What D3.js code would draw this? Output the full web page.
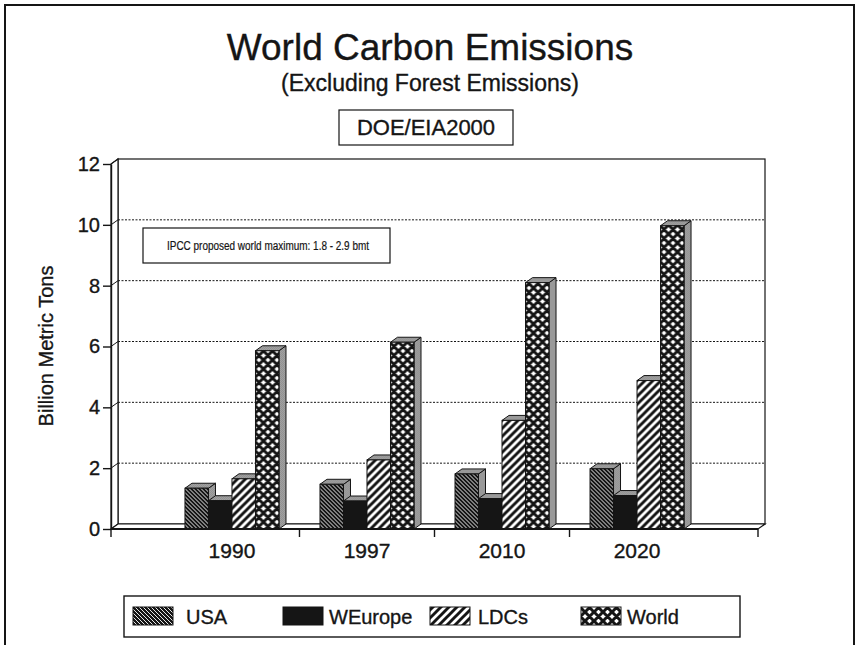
<!DOCTYPE html>
<html>
<head>
<meta charset="utf-8">
<script src="https://cdn.jsdelivr.net/npm/d3@7"></script>
<style>
  body { margin: 0; background: #fff; }
  svg { display: block; font-family: "Liberation Sans", Arial, Helvetica, sans-serif; }
  text { stroke: #151515; stroke-width: 0.35px; }
</style>
</head>
<body>
<svg id="chart" width="859" height="645"></svg>
<script>
// Carbon emissions, billion metric tons
const years = ["1990", "1997", "2010", "2020"];
const seriesNames = ["USA", "WEurope", "LDCs", "World"];
const usa     = [1.34, 1.47, 1.81, 1.98];
const weurope = [0.93, 0.92, 1.00, 1.10];
const ldcs    = [1.65, 2.27, 3.57, 4.88];
const world   = [5.86, 6.14, 8.10, 9.97];
const yTicks  = [0, 2, 4, 6, 8, 10, 12];

const seriesValues = [usa, weurope, ldcs, world];
const patternIds = ["pat-usa", "pat-weurope", "pat-ldcs", "pat-world"];

const INK = "#151515";
const DX = 7, DY = 5;               // 3-D depth offset
const xLeft = 111, xRight = 758;    // front floor edge
const floorY = 529, topY = 164;

const svg = d3.select("#chart");
const defs = svg.append("defs");

// ---- fill patterns ----
function pattern(id, size, bg) {
  const p = defs.append("pattern").attr("id", id)
    .attr("patternUnits", "userSpaceOnUse")
    .attr("width", size).attr("height", size);
  p.append("rect").attr("width", size).attr("height", size).attr("fill", bg);
  return p;
}
pattern("pat-usa", 4, INK)
  .append("path").attr("d", "M-1,-1L5,5M-1,3L1,5M3,-1L5,1")
  .attr("stroke", "#fff").attr("stroke-width", 0.9);
pattern("pat-weurope", 4, INK);
pattern("pat-ldcs", 8, "#fff")
  .append("path").attr("d", "M-2,2L2,-2M0,8L8,0M6,10L10,6")
  .attr("stroke", INK).attr("stroke-width", 2.9);
// heavy cross-hatch
pattern("pat-world", 9, "#fff")
  .append("path").attr("d", "M-2,2L2,-2M0,9L9,0M7,11L11,7M-2,7L2,11M0,0L9,9M7,-2L11,2")
  .attr("stroke", INK).attr("stroke-width", 3.0);
const ps = pattern("pat-stipple", 2, "#fff");
ps.append("rect").attr("width", 1).attr("height", 1).attr("fill", "#333");
ps.append("rect").attr("x", 1).attr("y", 1).attr("width", 1).attr("height", 1).attr("fill", "#333");

// ---- outer frame ----
svg.append("rect").attr("x", 5).attr("y", 5).attr("width", 849).attr("height", 680)
  .attr("fill", "none").attr("stroke", INK).attr("stroke-width", 2);

// ---- titles ----
svg.append("text").attr("x", 430).attr("y", 60).attr("text-anchor", "middle")
  .attr("font-size", 37).attr("fill", INK).text("World Carbon Emissions");
svg.append("text").attr("x", 430).attr("y", 91).attr("text-anchor", "middle")
  .attr("font-size", 23).attr("fill", INK).text("(Excluding Forest Emissions)");
svg.append("rect").attr("x", 339).attr("y", 110).attr("width", 174).attr("height", 35)
  .attr("fill", "#fff").attr("stroke", INK).attr("stroke-width", 1.2);
svg.append("text").attr("x", 426).attr("y", 135).attr("text-anchor", "middle")
  .attr("font-size", 22).attr("fill", INK).text("DOE/EIA2000");

// ---- scales ----
const y = d3.scaleLinear().domain([0, 12]).range([floorY, topY]);
const x = d3.scaleBand().domain(years).range([xLeft, xRight])
  .paddingInner(0).paddingOuter(0.396);
const xs = d3.scaleBand().domain(seriesNames).range([0, x.bandwidth()])
  .paddingInner(0).paddingOuter(0.872);

// ---- walls and floor ----
const plot = svg.append("g");
plot.append("rect").attr("x", xLeft + DX).attr("y", y(12) - DY)
  .attr("width", xRight - xLeft).attr("height", y(0) - y(12))
  .attr("fill", "#fff").attr("stroke", INK).attr("stroke-width", 1.2);
plot.append("path")
  .attr("d", `M${xLeft},${y(12)}L${xLeft + DX},${y(12) - DY}L${xLeft + DX},${y(0) - DY}L${xLeft},${y(0)}Z`)
  .attr("fill", "#fff").attr("stroke", INK).attr("stroke-width", 1.2);
plot.append("path")
  .attr("d", `M${xLeft},${y(0)}L${xLeft + DX},${y(0) - DY}L${xRight + DX},${y(0) - DY}L${xRight},${y(0)}Z`)
  .attr("fill", "#fff").attr("stroke", INK).attr("stroke-width", 1.2);

// dotted gridlines on the back wall
const gridVals = yTicks.filter(v => v > 0 && v < 12);
plot.selectAll("line.grid").data(gridVals).join("line").attr("class", "grid")
  .attr("x1", xLeft + DX).attr("x2", xRight + DX)
  .attr("y1", d => y(d) - DY).attr("y2", d => y(d) - DY)
  .attr("stroke", INK).attr("stroke-width", 1).attr("stroke-dasharray", "2,1.5");
plot.selectAll("line.gdiag").data(yTicks.filter(v => v > 0)).join("line").attr("class", "gdiag")
  .attr("x1", xLeft).attr("x2", xLeft + DX)
  .attr("y1", d => y(d)).attr("y2", d => y(d) - DY)
  .attr("stroke", INK).attr("stroke-width", 1);

// ---- bars ----
const groups = svg.append("g").selectAll("g.year").data(years).join("g")
  .attr("class", "year")
  .attr("transform", d => `translate(${x(d)},0)`);

const bars = groups.selectAll("g.bar")
  .data((yr, i) => seriesNames.map((s, j) => ({ s, j, v: seriesValues[j][i] })))
  .join("g").attr("class", "bar");

const bw = xs.bandwidth();
bars.append("path") // side face
  .attr("d", d => {
    const x0 = xs(d.s) + bw, yv = y(d.v), y0 = y(0);
    return `M${x0},${yv}L${x0 + DX},${yv - DY}L${x0 + DX},${y0 - DY}L${x0},${y0}Z`;
  })
  .attr("fill", "url(#pat-stipple)").attr("stroke", INK).attr("stroke-width", 1);
bars.append("path") // top face
  .attr("d", d => {
    const x0 = xs(d.s), yv = y(d.v);
    return `M${x0},${yv}L${x0 + DX},${yv - DY}L${x0 + bw + DX},${yv - DY}L${x0 + bw},${yv}Z`;
  })
  .attr("fill", "url(#pat-stipple)").attr("stroke", INK).attr("stroke-width", 1);
bars.append("rect") // front face
  .attr("x", d => xs(d.s)).attr("y", d => y(d.v))
  .attr("width", bw).attr("height", d => y(0) - y(d.v))
  .attr("fill", d => `url(#${patternIds[d.j]})`)
  .attr("stroke", INK).attr("stroke-width", 1);

// ---- axes ----
const yAxis = svg.append("g").attr("transform", `translate(${xLeft},0)`)
  .call(d3.axisLeft(y).tickValues(yTicks).tickSize(8).tickSizeOuter(0).tickPadding(3));
yAxis.select(".domain").attr("stroke", INK).attr("stroke-width", 1.4);
yAxis.selectAll(".tick line").attr("stroke", INK).attr("stroke-width", 1.4);
yAxis.selectAll(".tick text").attr("font-size", 20).attr("fill", INK)
  .attr("font-family", "Liberation Sans, Arial, sans-serif");

const xAxis = svg.append("g").attr("transform", `translate(0,${floorY})`)
  .call(d3.axisBottom(x).tickSize(0).tickPadding(14));
xAxis.select(".domain").remove();
xAxis.selectAll(".tick text").attr("font-size", 21).attr("fill", INK)
  .attr("font-family", "Liberation Sans, Arial, sans-serif");

// front floor edge and category separators
svg.append("line").attr("x1", xLeft).attr("x2", xRight)
  .attr("y1", floorY).attr("y2", floorY)
  .attr("stroke", INK).attr("stroke-width", 2);
const sepX = [xLeft].concat(years.slice(1).map(d => x(d)), [xRight]);
svg.selectAll("line.sep").data(sepX).join("line").attr("class", "sep")
  .attr("x1", d => d).attr("x2", d => d)
  .attr("y1", floorY).attr("y2", floorY + 8)
  .attr("stroke", INK).attr("stroke-width", 1.4);

// y axis title
svg.append("text").attr("transform", "translate(53,346) rotate(-90)")
  .attr("text-anchor", "middle").attr("font-size", 20).attr("fill", INK)
  .text("Billion Metric Tons");

// ---- annotation ----
svg.append("rect").attr("x", 143).attr("y", 228).attr("width", 247).attr("height", 35)
  .attr("fill", "#fff").attr("stroke", INK).attr("stroke-width", 1.2);
svg.append("text").attr("x", 167).attr("y", 250)
  .attr("font-size", 12).attr("fill", INK)
  .attr("textLength", 202).attr("lengthAdjust", "spacingAndGlyphs")
  .style("stroke-width", "0.2px")
  .text("IPCC proposed world maximum: 1.8 - 2.9 bmt");

// ---- legend ----
svg.append("rect").attr("x", 124).attr("y", 596).attr("width", 616).attr("height", 41)
  .attr("fill", "#fff").attr("stroke", INK).attr("stroke-width", 1.4);
const legendSwatchX = [133, 283, 430, 581];
const legendTextX = [186, 329, 478, 627];
const leg = svg.append("g").selectAll("g").data(seriesNames).join("g");
leg.append("rect")
  .attr("x", (d, i) => legendSwatchX[i]).attr("y", 607)
  .attr("width", 40).attr("height", 18)
  .attr("fill", (d, i) => `url(#${patternIds[i]})`)
  .attr("stroke", INK).attr("stroke-width", 1);
leg.append("text")
  .attr("x", (d, i) => legendTextX[i]).attr("y", 624)
  .attr("font-size", 20).attr("fill", INK).text(d => d);
</script>
</body>
</html>
